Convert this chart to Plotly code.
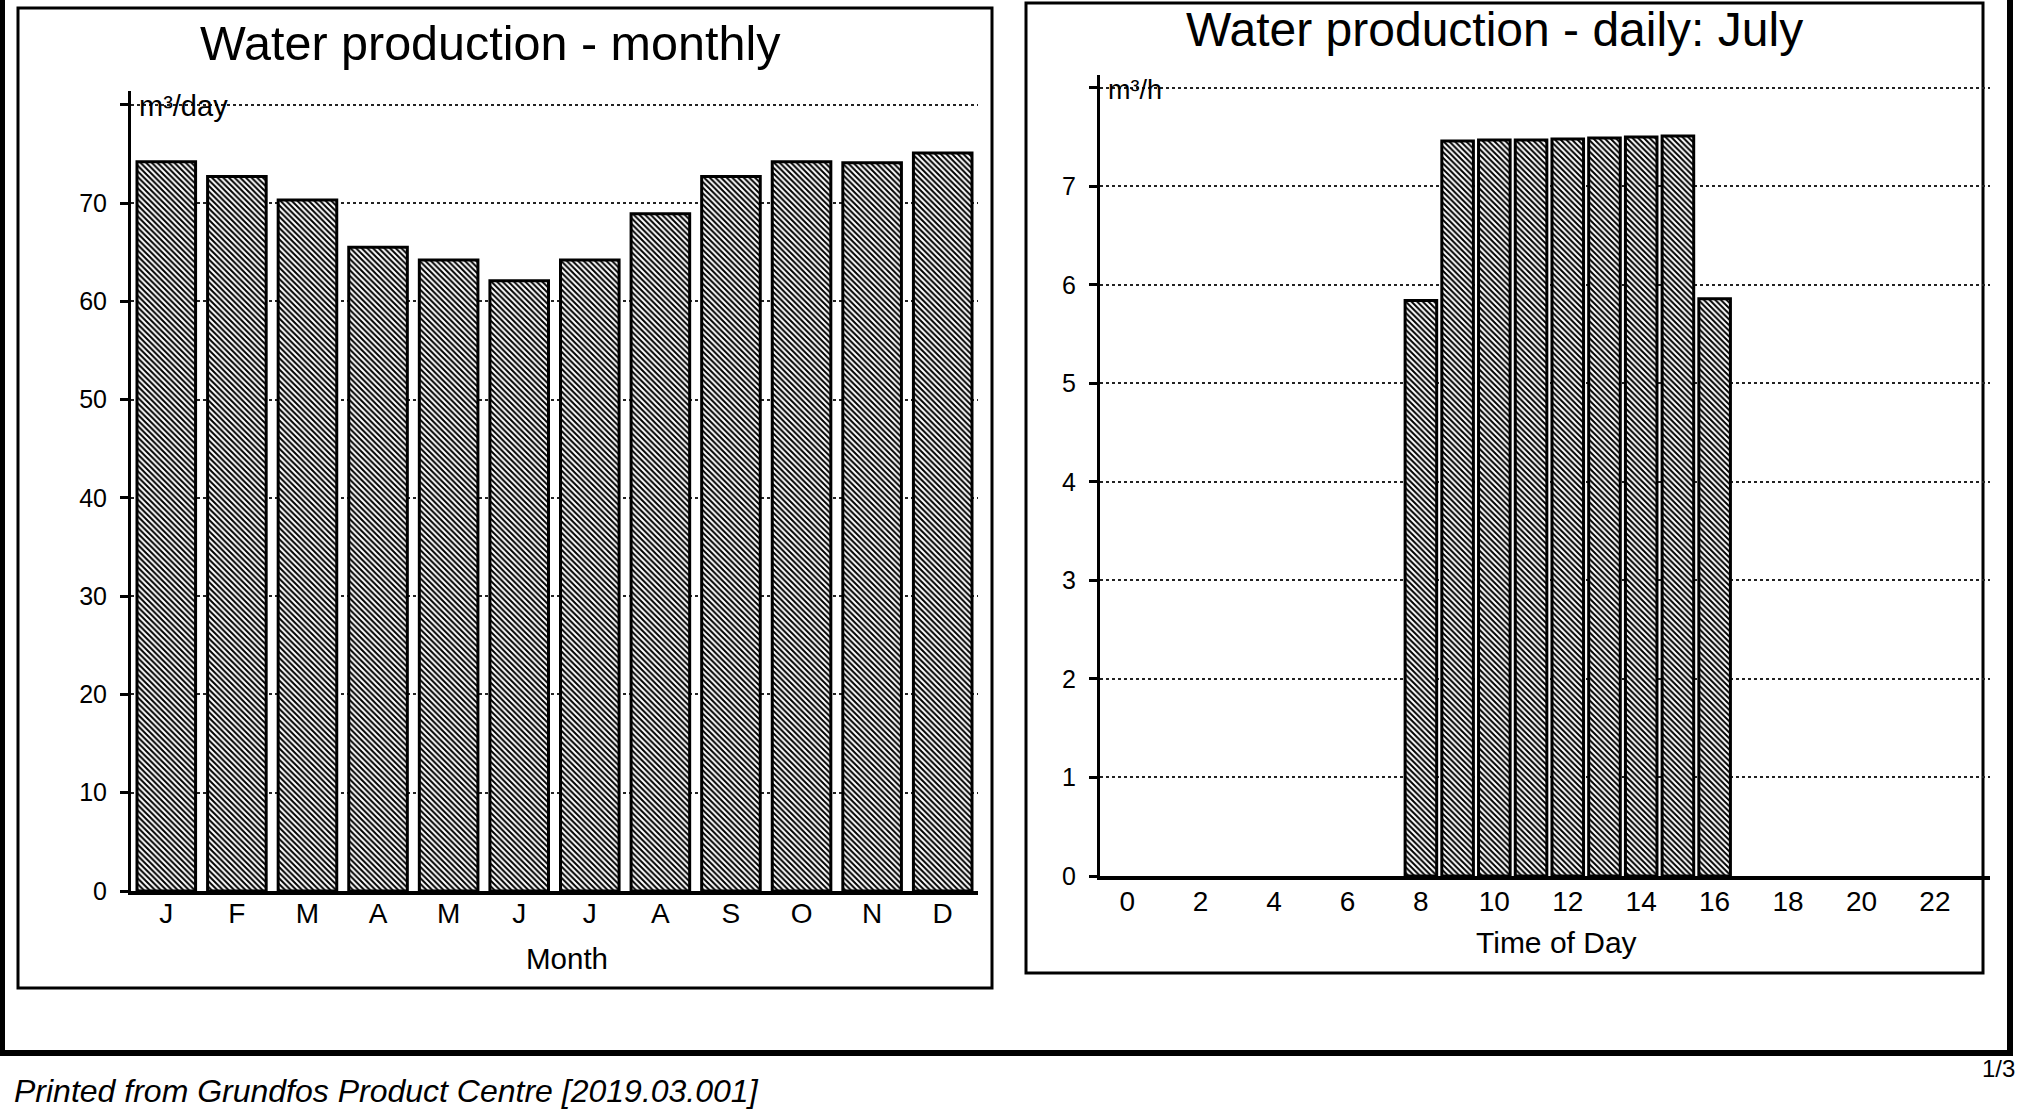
import plotly.graph_objects as go

# ---------------- data ----------------
months = ["J", "F", "M", "A", "M", "J", "J", "A", "S", "O", "N", "D"]
month_pos = [0, 1, 2, 3, 4, 5, 6, 7, 8, 9, 10, 11]
monthly_m3_day = [74.2, 72.7, 70.3, 65.5, 64.2, 62.1, 64.2, 68.9, 72.7, 74.2, 74.1, 75.1]
monthly_yticks = [0, 10, 20, 30, 40, 50, 60, 70, 80]
monthly_yticktext = ["0", "10", "20", "30", "40", "50", "60", "70", ""]

hours = [0, 1, 2, 3, 4, 5, 6, 7, 8, 9, 10, 11, 12, 13, 14, 15, 16, 17, 18, 19, 20, 21, 22, 23]
daily_july_m3_h = [0, 0, 0, 0, 0, 0, 0, 0, 5.84, 7.46, 7.47, 7.47, 7.48, 7.49, 7.50, 7.51, 5.86,
                   0, 0, 0, 0, 0, 0, 0]
hour_ticks = [0, 2, 4, 6, 8, 10, 12, 14, 16, 18, 20, 22]
daily_yticks = [0, 1, 2, 3, 4, 5, 6, 7, 8]
daily_yticktext = ["0", "1", "2", "3", "4", "5", "6", "7", ""]

# ---------------- layout helpers ----------------
W, H = 2031, 1114
def px(x):
    return x / W
def py(y):
    return 1 - y / H

FONT = "Liberation Sans, Arial, sans-serif"

def bar_marker(values):
    return dict(
        color="white",
        line=dict(color="black", width=[3 if v > 0 else 0 for v in values]),
        pattern=dict(shape="\\", fgcolor="black", bgcolor="white", size=4, solidity=0.5,
                     fillmode="replace"),
    )

fig = go.Figure()
fig.add_trace(go.Bar(x=month_pos, y=monthly_m3_day, width=0.83, marker=bar_marker(monthly_m3_day),
                     xaxis="x", yaxis="y", showlegend=False, hoverinfo="x+y"))
fig.add_trace(go.Bar(x=hours, y=daily_july_m3_h, width=0.86, marker=bar_marker(daily_july_m3_h),
                     xaxis="x2", yaxis="y2", showlegend=False, hoverinfo="x+y"))

common_y = dict(
    ticks="outside", ticklen=8, tickwidth=3, tickcolor="black",
    showline=True, linewidth=3, linecolor="black",
    showgrid=True, griddash="dot", gridcolor="#222", gridwidth=2,
    zeroline=False, tickfont=dict(family=FONT, size=25, color="black"),
    ticklabelstandoff=8, automargin=False, fixedrange=True,
)
common_x = dict(
    ticks="", showline=True, linewidth=4, linecolor="black", showgrid=False,
    zeroline=False, tickfont=dict(family=FONT, size=28, color="black"),
    automargin=False, fixedrange=True,
)

fig.update_layout(
    width=W, height=H,
    margin=dict(l=0, r=0, t=0, b=0),
    paper_bgcolor="white", plot_bgcolor="white",
    font=dict(family=FONT, color="black"),
    xaxis=dict(domain=[px(131), px(978)], range=[-0.5, 11.5],
               tickvals=month_pos, ticktext=months, anchor="y", ticklabelstandoff=-6, **common_x),
    yaxis=dict(domain=[py(891), py(91)], range=[0, 81.4],
               tickvals=monthly_yticks, ticktext=monthly_yticktext, anchor="x", **common_y),
    xaxis2=dict(domain=[px(1100), px(1990)], range=[-0.74, 23.5],
                tickvals=hour_ticks, anchor="y2", ticklabelstandoff=-3, **common_x),
    yaxis2=dict(domain=[py(876), py(75)], range=[0, 8.13],
                tickvals=daily_yticks, ticktext=daily_yticktext, anchor="x2", **common_y),
)

annotations = [
    dict(text="Water production - monthly", x=px(490), y=py(43), font=dict(size=48.5)),
    dict(text="Water production - daily: July", x=px(1494), y=py(30), font=dict(size=48)),
    dict(text="Month", x=px(567), y=py(958), font=dict(size=29.5)),
    dict(text="Time of Day", x=px(1556), y=py(942), font=dict(size=30)),
    dict(text="m³/day", x=px(137), y=py(106), xanchor="left", font=dict(size=29)),
    dict(text="m³/h", x=px(1106), y=py(90), xanchor="left", font=dict(size=27)),
    dict(text="<i>Printed from Grundfos Product Centre [2019.03.001]</i>", x=px(12), y=py(1091),
         xanchor="left", font=dict(size=32)),
    dict(text="1/3", x=px(1998), y=py(1068), font=dict(size=24)),
]
for a in annotations:
    a.setdefault("xanchor", "center")
    a.update(xref="paper", yref="paper", yanchor="middle", showarrow=False)
    a["font"] = dict(family=FONT, color="black", **a["font"])
fig.update_layout(annotations=annotations)

shapes = [
    # outer page frame
    dict(type="rect", x0=px(2), x1=px(2010), y0=py(1053), y1=py(-20), line=dict(color="black", width=6)),
    # left chart box
    dict(type="rect", x0=px(18), x1=px(992), y0=py(988), y1=py(8), line=dict(color="black", width=3)),
    # right chart box
    dict(type="rect", x0=px(1026), x1=px(1983), y0=py(973), y1=py(3), line=dict(color="black", width=3)),
]
for s in shapes:
    s.update(xref="paper", yref="paper", layer="below", fillcolor="rgba(0,0,0,0)")
fig.update_layout(shapes=shapes)

fig.write_html("out.html", config={"displayModeBar": False},
               post_script="document.body.style.margin='0';document.body.style.overflow='hidden';")
